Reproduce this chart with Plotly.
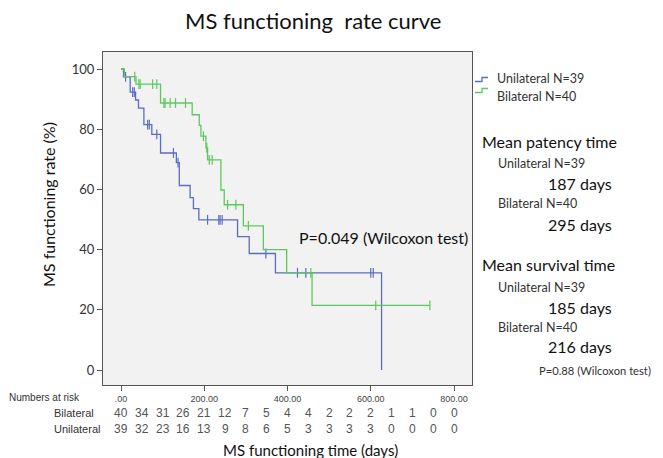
import plotly.graph_objects as go

# ---------------- data ----------------
uni_t = [0, 6, 22, 35, 42, 55, 74, 95, 133, 140, 166, 174, 187, 280, 308, 371, 626]
uni_s = [100, 97.4, 92.3, 89.7, 87.0, 81.5, 78.3, 72.1, 68.9, 61.3, 57.3, 53.6, 49.9, 44.3, 38.7, 32.3, 0]
uni_ct = [11, 28, 32, 64, 68, 86, 126, 137, 208, 235, 238, 243, 348, 424, 444, 600, 606]
uni_cs = [97.4, 92.3, 92.3, 81.5, 81.5, 78.3, 72.1, 68.9, 49.9, 49.9, 49.9, 49.9, 38.7, 32.3, 32.3, 32.3, 32.3]

bil_t = [0, 8, 36, 95, 171, 188, 192, 204, 208, 240, 248, 294, 342, 398, 459, 742]
bil_s = [100, 97.5, 95, 88.7, 84.8, 81.3, 77.7, 73.8, 69.8, 59.8, 54.9, 47.9, 40, 32.3, 21.5, 21.5]
bil_ct = [33, 43, 46, 76, 86, 103, 106, 118, 131, 155, 198, 206, 212, 219, 256, 276, 306, 456, 612, 742]
bil_cs = [97.5, 95, 95, 95, 95, 88.7, 88.7, 88.7, 88.7, 88.7, 77.7, 73.8, 69.8, 69.8, 54.9, 54.9, 47.9, 32.3, 21.5, 21.5]

x_ticks = [0, 200, 400, 600, 800]
x_ticktext = [".00", "200.00", "400.00", "600.00", "800.00"]
y_ticks = [0, 20, 40, 60, 80, 100]

risk_t = [0, 50, 100, 150, 200, 250, 300, 350, 400, 450, 500, 550, 600, 650, 700, 750, 800]
risk_bil = [40, 34, 31, 26, 21, 12, 7, 5, 4, 4, 2, 2, 2, 1, 1, 0, 0]
risk_uni = [39, 32, 23, 16, 13, 9, 8, 6, 5, 3, 3, 3, 3, 0, 0, 0, 0]

BLUE = "#5a6cc4"
GREEN = "#5dc95d"

# ---------------- layout geometry (screen pixels) ----------------
W, H = 663, 458
OFF = 8                      # page body margin of the browser
L, R, T, B = 103, 472, 52, 385


def px(x):
    return (x - L) / (R - L)


def py(y):
    return (B - y) / (B - T)


fig = go.Figure()

for t, s, ct, cs, col, name in [
    (uni_t, uni_s, uni_ct, uni_cs, BLUE, "Unilateral N=39"),
    (bil_t, bil_s, bil_ct, bil_cs, GREEN, "Bilateral N=40"),
]:
    fig.add_trace(go.Scatter(x=t, y=s, mode="lines", line=dict(color=col, width=1.3, shape="hv"),
                             name=name, showlegend=False, hoverinfo="skip"))
    fig.add_trace(go.Scatter(x=ct, y=cs, mode="markers",
                             marker=dict(symbol="line-ns", size=7, line=dict(color=col, width=1.2)),
                             showlegend=False, hoverinfo="skip"))

MAIN = "Lato"
SMALL = "Liberation Sans"
ann = []

# title
ann.append(dict(text="MS functioning  rate curve", x=px(313), y=py(21), xref="paper", yref="paper",
                showarrow=False, font=dict(family=MAIN, size=22, color="#111"), xanchor="center", yanchor="middle"))
# axis titles
ann.append(dict(text="MS functioning time (days)", x=px(310), y=py(450), xref="paper", yref="paper",
                showarrow=False, font=dict(family=MAIN, size=15, color="#111"), xanchor="center", yanchor="middle"))
ann.append(dict(text="MS functioning rate (%)", x=px(48), y=py(205), xref="paper", yref="paper", textangle=-90,
                showarrow=False, font=dict(family=MAIN, size=16, color="#111"), xanchor="center", yanchor="middle"))
# p-value in plot
ann.append(dict(text="P=0.049 (Wilcoxon test)", x=px(297), y=py(237), xref="paper", yref="paper",
                showarrow=False, font=dict(family=MAIN, size=16, color="#111"), xanchor="left", yanchor="middle"))

# legend text
ann.append(dict(text="Unilateral N=39", x=px(495), y=py(78), xref="paper", yref="paper",
                showarrow=False, font=dict(family=MAIN, size=12.5, color="#333"), xanchor="left", yanchor="middle"))
ann.append(dict(text="Bilateral N=40", x=px(495), y=py(97), xref="paper", yref="paper",
                showarrow=False, font=dict(family=MAIN, size=12.5, color="#333"), xanchor="left", yanchor="middle"))

# right text block
right_items = [
    ("Mean patency time", 480, 141, 16, "#111"),
    ("Unilateral N=39", 496, 163, 12.5, "#333"),
    ("187 days", 546, 184, 16, "#111"),
    ("Bilateral N=40", 496, 203, 12.5, "#333"),
    ("295 days", 546, 225, 16, "#111"),
    ("Mean survival time", 480, 264, 16, "#111"),
    ("Unilateral N=39", 496, 287, 12.5, "#333"),
    ("185 days", 546, 307, 16, "#111"),
    ("Bilateral N=40", 496, 327, 12.5, "#333"),
    ("216 days", 546, 346, 16, "#111"),
    ("P=0.88 (Wilcoxon test)", 537, 370, 11.2, "#333"),
]
for txt, xx, yy, sz, c in right_items:
    ann.append(dict(text=txt, x=px(xx), y=py(yy), xref="paper", yref="paper", showarrow=False,
                    font=dict(family=MAIN, size=sz, color=c), xanchor="left", yanchor="middle"))

# numbers at risk
ann.append(dict(text="Numbers at risk", x=px(7), y=py(398), xref="paper", yref="paper", showarrow=False,
                font=dict(family=SMALL, size=10, color="#333"), xanchor="left", yanchor="middle"))
ann.append(dict(text="Bilateral", x=px(52), y=py(413), xref="paper", yref="paper", showarrow=False,
                font=dict(family=SMALL, size=11, color="#333"), xanchor="left", yanchor="middle"))
ann.append(dict(text="Unilateral", x=px(52), y=py(429), xref="paper", yref="paper", showarrow=False,
                font=dict(family=SMALL, size=11, color="#333"), xanchor="left", yanchor="middle"))
for t, nb, nu in zip(risk_t, risk_bil, risk_uni):
    ann.append(dict(text=str(nb), x=t, y=py(413), xref="x", yref="paper", showarrow=False,
                    font=dict(family=SMALL, size=12, color="#555"), xanchor="center", yanchor="middle"))
    ann.append(dict(text=str(nu), x=t, y=py(429), xref="x", yref="paper", showarrow=False,
                    font=dict(family=SMALL, size=12, color="#555"), xanchor="center", yanchor="middle"))

# legend glyphs (step shaped keys)
shapes = []
for col, ybase in [(BLUE, 81.5), (GREEN, 92.5)]:
    path = "M {a},{b} L {c},{b} L {c},{d} L {e},{d}".format(
        a=px(475), b=py(ybase), c=px(482), d=py(ybase - 4), e=px(488))
    shapes.append(dict(type="path", path=path, xref="paper", yref="paper",
                       line=dict(color=col, width=1.3)))

x_scale = (454 - 121) / 800.0
x_lo = (L - 121) / x_scale
x_hi = (R - 121) / x_scale
y_scale = (370 - 69) / 100.0
y_lo = (370 - B) / y_scale
y_hi = (370 - T) / y_scale

fig.update_layout(
    width=W - OFF, height=H - OFF,
    margin=dict(l=L - OFF, r=W - R, t=T - OFF, b=H - B, pad=0),
    paper_bgcolor="white",
    plot_bgcolor="#f2f2f2",
    annotations=ann,
    shapes=shapes,
    showlegend=False,
    xaxis=dict(range=[x_lo, x_hi], tickvals=x_ticks, ticktext=x_ticktext, ticks="outside", ticklen=5,
               tickcolor="#555", showgrid=False, zeroline=False, showline=True, linecolor="#555",
               linewidth=1, mirror=True, tickfont=dict(family=SMALL, size=9, color="#444")),
    yaxis=dict(range=[y_lo, y_hi], tickvals=y_ticks, ticks="outside", ticklen=5, tickcolor="#555",
               showgrid=False, zeroline=False, showline=True, linecolor="#555", linewidth=1, mirror=True,
               tickfont=dict(family=MAIN, size=13, color="#333")),
)

fig.write_html("out.html")
